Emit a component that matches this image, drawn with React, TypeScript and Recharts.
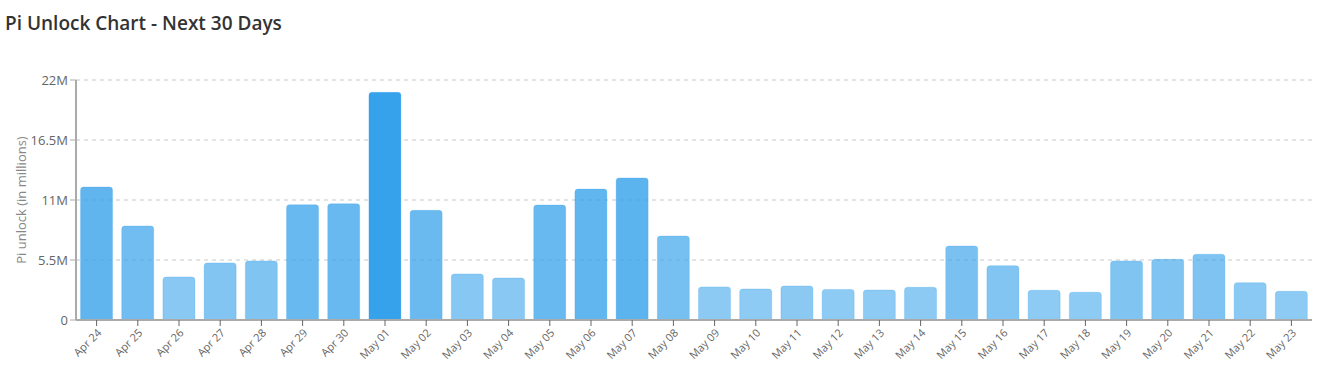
import { BarChart, Bar, XAxis, YAxis, CartesianGrid, Cell } from 'recharts';

// ─── Data ─────────────────────────────────────────────────────────────────────

const DAYS = [
  'Apr 24', 'Apr 25', 'Apr 26', 'Apr 27', 'Apr 28', 'Apr 29', 'Apr 30',
  'May 01', 'May 02', 'May 03', 'May 04', 'May 05', 'May 06', 'May 07', 'May 08',
  'May 09', 'May 10', 'May 11', 'May 12', 'May 13', 'May 14', 'May 15', 'May 16',
  'May 17', 'May 18', 'May 19', 'May 20', 'May 21', 'May 22', 'May 23',
];

// unlock amounts, in millions of Pi
const UNLOCK_M = [
  12.19, 8.62, 3.94, 5.23, 5.41, 10.57, 10.66,
  20.87, 10.05, 4.22, 3.85, 10.54, 12.0, 13.02, 7.7,
  3.03, 2.84, 3.12, 2.8, 2.75, 3.0, 6.78, 4.98,
  2.72, 2.54, 5.41, 5.56, 6.02, 3.42, 2.63,
];

const Y_TICKS = [0, 5.5, 11, 16.5, 22];

const data = DAYS.map((day, i) => ({ day, value: UNLOCK_M[i] }));
const MAX = Math.max(...UNLOCK_M);

const FONT = '"Open Sans", "Noto Sans", sans-serif';

// bar shade deepens with the size of the unlock
const shade = (v: number) => {
  const a = 0.5 + 0.5 * (v / MAX);
  return `rgba(54, 162, 235, ${a.toFixed(3)})`;
};

export default function App() {
  return (
    <div style={{ position: 'absolute', left: 0, top: 0, width: 1335, height: 377, background: '#fff', fontFamily: FONT }}>
      <div
        style={{
          position: 'absolute',
          left: 5,
          top: 10,
          fontSize: 19,
          fontWeight: 600,
          color: '#333',
          fontFamily: FONT,
        }}
      >
        Pi Unlock Chart - Next 30 Days
      </div>
      <BarChart
        width={1335}
        height={377}
        data={data}
        margin={{ top: 80, right: 23, bottom: 7, left: 16 }}
        barCategoryGap="11%"
      >
        <CartesianGrid vertical={false} stroke="#dcdcdc" strokeDasharray="4 4" strokeWidth={1.5} />
        <XAxis
          dataKey="day"
          interval={0}
          height={50}
          angle={-45}
          textAnchor="end"
          tick={{ fill: '#666', fontSize: 11, fontFamily: FONT }}
          tickSize={6}
          tickLine={{ stroke: '#666' }}
          axisLine={{ stroke: '#aaa', strokeWidth: 2 }}
        />
        <YAxis
          width={60}
          domain={[0, 22]}
          ticks={Y_TICKS}
          tickFormatter={(v: number) => (v === 0 ? '0' : `${v}M`)}
          tick={{ fill: '#666', fontSize: 13, fontFamily: FONT }}
          tickSize={6}
          tickLine={{ stroke: '#aaa' }}
          axisLine={{ stroke: '#aaa', strokeWidth: 2 }}
          label={{
            value: 'Pi unlock (in millions)',
            angle: -90,
            position: 'insideLeft',
            offset: 5,
            style: { textAnchor: 'middle', fill: '#888', fontSize: 13, fontFamily: FONT },
          }}
        />
        <Bar dataKey="value" radius={[3, 3, 0, 0]} isAnimationActive={false}>
          {data.map((d) => (
            <Cell key={d.day} fill={shade(d.value)} stroke="rgba(54, 162, 235, 0.25)" strokeWidth={1} />
          ))}
        </Bar>
      </BarChart>
    </div>
  );
}
